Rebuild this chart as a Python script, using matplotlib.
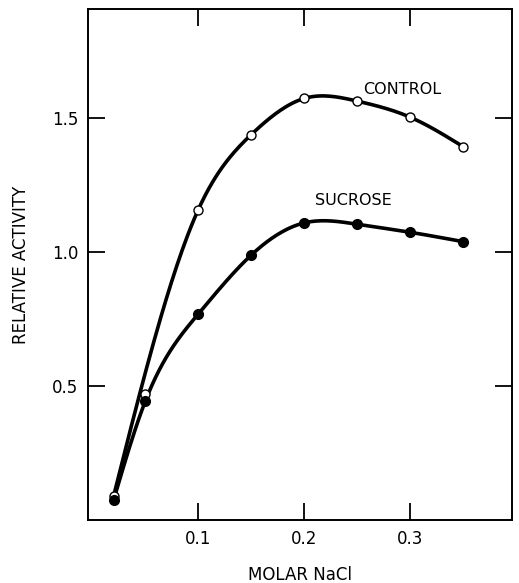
import matplotlib
matplotlib.use("Agg")
import matplotlib.pyplot as plt
import numpy as np

# values
nacl = [0.02, 0.05, 0.10, 0.15, 0.20, 0.25, 0.30, 0.35]
control = [0.09, 0.47, 1.16, 1.44, 1.575, 1.565, 1.505, 1.395]
sucrose = [0.075, 0.445, 0.77, 0.99, 1.11, 1.105, 1.075, 1.04]

xticks = [0.1, 0.2, 0.3]
yticks = [0.5, 1.0, 1.5]


def smooth(x, y, skip=(), n=200):
    # natural cubic spline through the points (minus any skipped ones),
    # only used to draw the hand-fitted looking curve
    keep = [i for i in range(len(x)) if i not in skip]
    x = np.asarray(x, float)[keep]
    y = np.asarray(y, float)[keep]
    h = np.diff(x)
    k = len(x)
    A = np.zeros((k, k))
    b = np.zeros(k)
    A[0, 0] = A[-1, -1] = 1
    for i in range(1, k - 1):
        A[i, i - 1] = h[i - 1]
        A[i, i] = 2 * (h[i - 1] + h[i])
        A[i, i + 1] = h[i]
        b[i] = 6 * ((y[i + 1] - y[i]) / h[i] - (y[i] - y[i - 1]) / h[i - 1])
    m = np.linalg.solve(A, b)
    xs = np.linspace(x[0], x[-1], n)
    idx = np.clip(np.searchsorted(x, xs) - 1, 0, k - 2)
    x0, x1 = x[idx], x[idx + 1]
    hh = x1 - x0
    t0, t1 = x1 - xs, xs - x0
    ys = (m[idx] * t0**3 + m[idx + 1] * t1**3) / (6 * hh) \
        + (y[idx] / hh - m[idx] * hh / 6) * t0 \
        + (y[idx + 1] / hh - m[idx + 1] * hh / 6) * t1
    return xs, ys


fig = plt.figure(figsize=(5.19, 5.83), dpi=100)
ax = fig.add_axes([0.170, 0.108, 0.816, 0.877])

for ys, face, skip in [(control, 'white', (1,)), (sucrose, 'black', ())]:
    sx, sy = smooth(nacl, ys, skip)
    ax.plot(sx, sy, color='black', lw=2.6, zorder=2)
    ax.plot(nacl, ys, 'o', ms=6.5 if face == 'white' else 7,
            mfc=face, mec='black', mew=1.0, zorder=3)

ax.text(0.293, 1.61, 'CONTROL', fontsize=11.5, ha='center', va='center')
ax.text(0.246, 1.194, 'SUCROSE', fontsize=11.5, ha='center', va='center')

ax.set_xlim(-0.004, 0.396)
ax.set_ylim(0, 1.91)
ax.set_xticks(xticks)
ax.set_yticks(yticks)
ax.set_xticklabels(['0.1', '0.2', '0.3'])
ax.set_yticklabels(['0.5', '1.0', '1.5'])
ax.tick_params(direction='in', length=12, width=1.3, labelsize=12,
               top=True, right=True, pad=7)
for s in ax.spines.values():
    s.set_linewidth(1.4)

ax.set_xlabel('MOLAR NaCl', fontsize=12, labelpad=13)
ax.set_ylabel('RELATIVE ACTIVITY', fontsize=12, labelpad=16)

fig.savefig('out.png', dpi=100)
